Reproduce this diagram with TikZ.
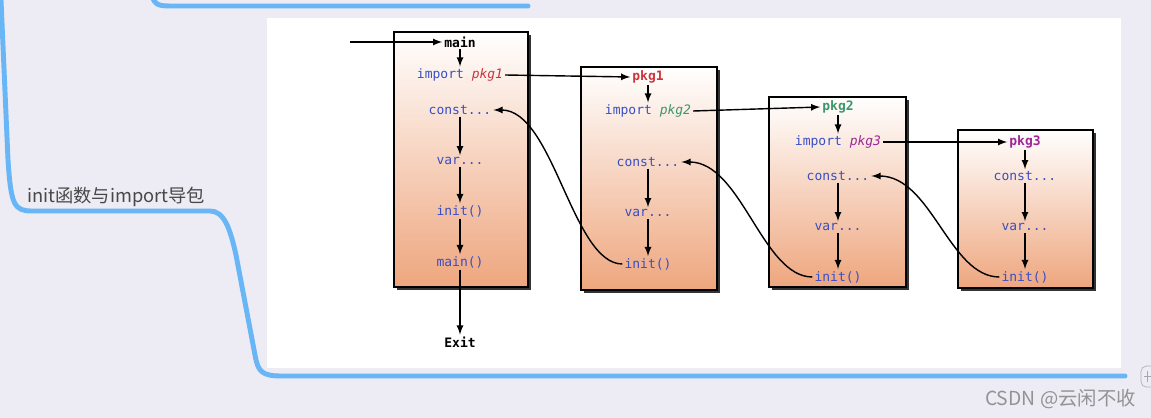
\documentclass[tikz,border=0pt]{standalone}
\usepackage{fontspec}
\setmonofont{DejaVu Sans Mono}
\newfontfamily\cjkfont{Noto Sans CJK SC}
\usetikzlibrary{arrows,shadows}
\definecolor{mapblue}{RGB}{104,182,245}
\definecolor{canvas}{RGB}{237,235,244}
\definecolor{codeblue}{RGB}{58,78,196}
\definecolor{pkgred}{RGB}{206,52,62}
\definecolor{pkggreen}{RGB}{58,152,106}
\definecolor{pkgpurple}{RGB}{158,38,152}
\definecolor{peach}{RGB}{238,166,126}
\definecolor{mapgray}{RGB}{72,72,72}

\begin{document}
\begin{tikzpicture}[x=0.02cm, y=-0.02cm,
    code/.style={font=\ttfamily\fontsize{7.4}{9}\selectfont, text=codeblue, inner sep=1pt},
    title/.style={font=\ttfamily\bfseries\fontsize{7.4}{9}\selectfont, inner sep=1pt},
    pkgbox/.style={draw=black, line width=0.8pt, top color=white, bottom color=peach,
        drop shadow={shadow xshift=1.5pt, shadow yshift=-1.5pt, fill=black!80, opacity=1}},
    flow/.style={-latex, line width=0.8pt},
    back/.style={flow, out=180, in=0, out distance=1cm, in distance=1.2cm},
    branch/.style={draw=mapblue, line width=2.8pt, line cap=round}]
    \useasboundingbox[fill=canvas] (0,0) rectangle (1151,418);
    % mind map branches
    \draw[branch] (150,-10) .. controls (154,4) and (156,6) .. (170,6) -- (528,6);
    \draw[branch] (1,0) -- (8,160) .. controls (11,205) and (14,211) .. (32,211) -- (210,211)
        .. controls (224,211) and (230,228) .. (236,255) -- (255,355)
        .. controls (258,372) and (262,376) .. (282,376) -- (1125,376);
    \node[font=\cjkfont\fontsize{10.4}{13}\selectfont, text=mapgray, anchor=west, inner sep=0pt] (topic) at (27,197) {init函数与import导包};
    \draw[gray!60, fill=canvas, rounded corners=3] (1141,366) rectangle (1162,387);
    \draw[gray!70, line width=0.6pt] (1144,376.5) -- (1151,376.5) (1147.5,371) -- (1147.5,382);
    \node[font=\cjkfont\fontsize{11}{13}\selectfont, text=gray!85, anchor=east, inner sep=0pt] (mark) at (1136,399) {CSDN @云闲不收};
    % white panel
    \fill[white] (267,18) rectangle (1121,368);

    % boxes
    \node[pkgbox, minimum width=2.68cm, minimum height=5.10cm] (mainbox) at (461,159.5) {};
    \node[pkgbox, minimum width=2.72cm, minimum height=4.46cm] (pkg1box) at (649,178.5) {};
    \node[pkgbox, minimum width=2.74cm, minimum height=3.80cm] (pkg2box) at (837.5,192) {};
    \node[pkgbox, minimum width=2.70cm, minimum height=3.16cm] (pkg3box) at (1025.5,209) {};

    % main package
    \node[title] (mainlbl) at (460,42) {main};
    \node[code] (imp1) at (460,75) {import \textcolor{pkgred}{\itshape pkg1}};
    \node[code] (const0) at (460,110) {const...};
    \node[code] (var0) at (460,161) {var...};
    \node[code] (init0) at (460,211) {init()};
    \node[code] (mainfn) at (460,262) {main()};
    \node[title] (exit) at (460,342) {Exit};
    \coordinate (entry) at (350,42);

    % pkg1
    \node[title, text=pkgred] (pkg1lbl) at (648,77) {pkg1};
    \node[code] (imp2) at (648,111) {import \textcolor{pkggreen}{\itshape pkg2}};
    \node[code] (const1) at (648,162) {const...};
    \node[code] (var1) at (648,213) {var...};
    \node[code] (init1) at (648,264) {init()};

    % pkg2
    \node[title, text=pkggreen] (pkg2lbl) at (838,107) {pkg2};
    \node[code] (imp3) at (838,142) {import \textcolor{pkgpurple}{\itshape pkg3}};
    \node[code] (const2) at (838,176) {const...};
    \node[code] (var2) at (838,227) {var...};
    \node[code] (init2) at (838,277) {init()};

    % pkg3
    \node[title, text=pkgpurple] (pkg3lbl) at (1025,142) {pkg3};
    \node[code] (const3) at (1025,176) {const...};
    \node[code] (var3) at (1025,227) {var...};
    \node[code] (init3) at (1025,277) {init()};

    % order inside packages
    \draw[flow] (entry) -- (mainlbl);
    \draw[flow] (mainlbl) -- (imp1);
    \draw[flow] (const0) -- (var0);
    \draw[flow] (var0) -- (init0);
    \draw[flow] (init0) -- (mainfn);
    \draw[flow] (mainfn) -- (exit);
    \draw[flow] (pkg1lbl) -- (imp2);
    \draw[flow] (const1) -- (var1);
    \draw[flow] (var1) -- (init1);
    \draw[flow] (pkg2lbl) -- (imp3);
    \draw[flow] (const2) -- (var2);
    \draw[flow] (var2) -- (init2);
    \draw[flow] (pkg3lbl) -- (const3);
    \draw[flow] (const3) -- (var3);
    \draw[flow] (var3) -- (init3);

    % imports and returns
    \draw[flow] (imp1.east) -- (pkg1lbl.west);
    \draw[flow] (imp2.east) -- (pkg2lbl.west);
    \draw[flow] (imp3.east) -- (pkg3lbl.west);
    \draw[back] (init1.west) to (const0.east);
    \draw[back] (init2.west) to (const1.east);
    \draw[back] (init3.west) to (const2.east);
\end{tikzpicture}
\end{document}
